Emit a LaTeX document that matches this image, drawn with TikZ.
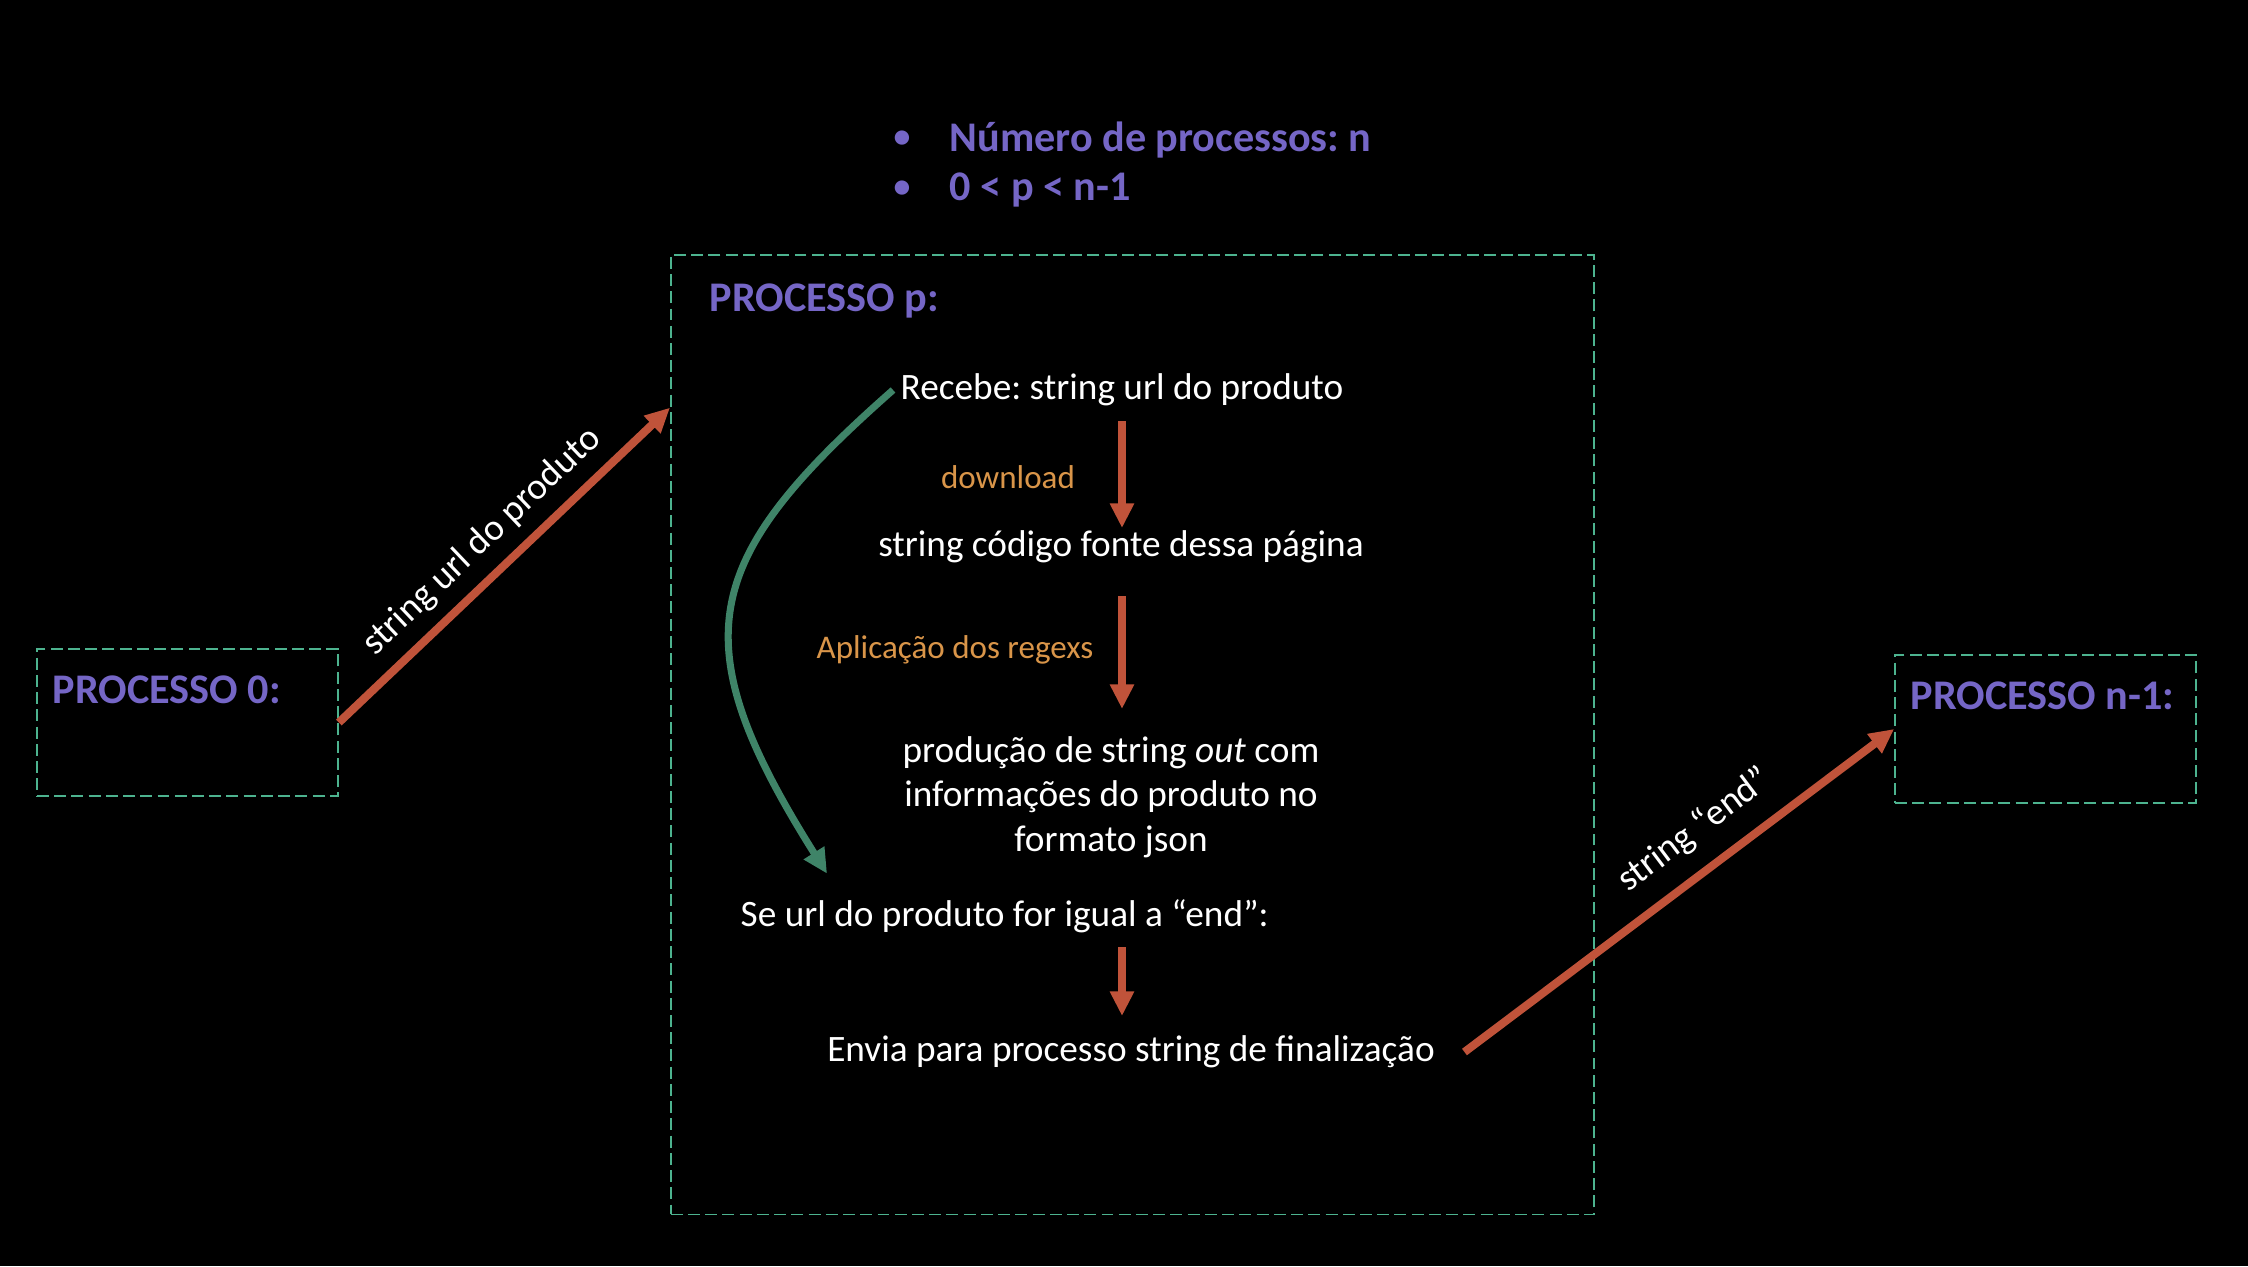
\documentclass[tikz,border=0pt]{standalone}
\usepackage{fontspec}
\setmainfont{Carlito}
\frenchspacing
\usetikzlibrary{arrows.meta,positioning,calc}
\definecolor{cP}{HTML}{7566C6}
\definecolor{cR}{HTML}{C0533A}
\definecolor{cG}{HTML}{3F8468}
\definecolor{cT}{HTML}{4DB38F}
\definecolor{cO}{HTML}{D99549}
\tikzset{
  pbox/.style={draw=cT,line width=0.45pt,dash pattern=on 3.4pt off 1.5pt,inner sep=0pt},
  ptitle/.style={text=cP,font=\fontsize{12}{14}\selectfont\bfseries,anchor=west,inner sep=0pt},
  txt/.style={text=white,font=\fontsize{10.6}{12.7}\selectfont,inner sep=0pt,align=center},
  note/.style={text=cO,font=\fontsize{9.4}{11}\selectfont,inner sep=0pt},
  flow/.style={cR,line width=2.3pt,-{Triangle[width=6.5pt,length=7pt]}},
  loopar/.style={cG,line width=2pt,-{Triangle[width=6.5pt,length=7pt]}}
}
\begin{document}
\begin{tikzpicture}[x=0.01cm,y=-0.01cm]
  \fill[black] (0,0) rectangle (2248,1266);
  % header
  \node[ptitle] (nproc) at (949,140) {Número de processos: n};
  \node[ptitle] (prange) at (949,190) {0 < p < n-1};
  \node[ptitle,anchor=center,scale=0.8] (b1) at (902,139) {•};
  \node[ptitle,anchor=center,scale=0.8] (b2) at (902,189) {•};
  % the three processes
  \node[pbox,minimum width=3.01cm,minimum height=1.47cm] (p0) at (187.5,722.5) {};
  \node[pbox,minimum width=9.23cm,minimum height=9.59cm] (pp) at (1132.5,734.5) {};
  \node[pbox,minimum width=3.01cm,minimum height=1.48cm] (pn) at (2045.5,729) {};
  \node[ptitle] (t0) at ([xshift=0.16cm,yshift=-0.42cm]p0.north west) {PROCESSO 0:};
  \node[ptitle] (tp) at ([xshift=0.39cm,yshift=-0.47cm]pp.north west) {PROCESSO p:};
  \node[ptitle] (tn) at ([xshift=0.16cm,yshift=-0.42cm]pn.north west) {PROCESSO n-1:};
  % steps inside p
  \node[txt] (recebe) at (1122,390) {Recebe: string url do produto};
  \node[txt] (codigo) at (1121,547) {string código fonte dessa página};
  \node[txt] (json) at (1111,797) {produção de string \textit{out} com\\informações do produto no\\formato json};
  \node[txt,anchor=west] (seurl) at (740,916) {Se url do produto for igual a “end”:};
  \node[txt] (envia) at (1131,1052) {Envia para processo string de finalização};
  \node[note] (dl) at (1008,477) {download};
  \node[note] (rgx) at (955,650) {Aplicação dos regexs};
  \draw[flow] ([yshift=-0.31cm]recebe.center) -- ([yshift=0.19cm]codigo.center -| recebe);
  \draw[flow] ([yshift=-0.49cm]codigo.center -| recebe) -- ([yshift=0.88cm]json.center -| recebe);
  \draw[flow] ([yshift=-0.31cm]seurl.center -| recebe) -- ([yshift=0.36cm]envia.center -| recebe);
  \draw[loopar] ([xshift=-0.07cm]recebe.west) .. controls (700,560) and (680,640) .. ([xshift=0.87cm,yshift=0.25cm]seurl.north west);
  % messages between processes
  \draw[flow] (p0.east) -- ($(pp.north west)!0.16!(pp.south west)$)
    node[txt,midway,above,sloped,inner sep=3.5pt] (lurl) {string url do produto};
  \draw[flow] ([xshift=0.29cm]envia.east) -- (pn.west)
    node[txt,pos=0.59,above,sloped,inner sep=5.2pt] (lend) {string “end”};
\end{tikzpicture}
\end{document}
